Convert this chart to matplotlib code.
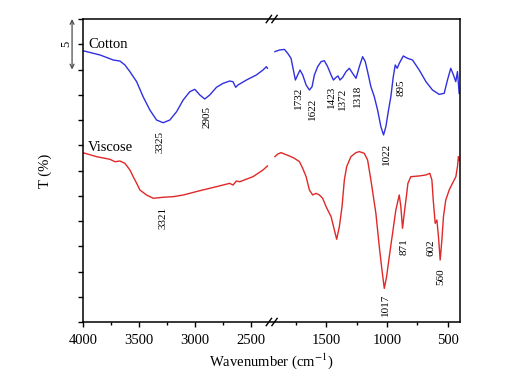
#!/usr/bin/env python3
"""
FTIR spectra of cotton and viscose with a broken wavenumber axis.

Output:
  out.png
"""

from __future__ import annotations

import numpy as np
import matplotlib

matplotlib.use("Agg")
import matplotlib.pyplot as plt


# Spectra (wavenumber in cm-1, transmittance with arbitrary offset, %)
COTTON_HI_WN = [4000, 3848, 3729, 3670, 3625, 3580, 3520, 3462, 3402, 3342, 3283, 3223,
                3163, 3104, 3045, 3000, 2955, 2911, 2866, 2806, 2747, 2688, 2658, 2634,
                2613, 2538, 2449, 2390, 2360, 2350]
COTTON_HI_T = [26.86, 26.44, 25.94, 25.84, 25.45, 24.78, 23.79, 22.30, 20.99, 20.00, 19.73,
               20.00, 20.82, 21.98, 22.80, 23.04, 22.48, 22.08, 22.48, 23.24, 23.63, 23.86,
               23.79, 23.24, 23.47, 23.96, 24.46, 24.95, 25.28, 25.12]

COTTON_LO_WN = [1920, 1883, 1842, 1815, 1788, 1774, 1752, 1733, 1714, 1692, 1664, 1637,
                1615, 1596, 1569, 1541, 1514, 1487, 1459, 1440, 1418, 1402, 1386, 1364,
                1336, 1309, 1282, 1254, 1227, 1200, 1178, 1159, 1132, 1104, 1077, 1050,
                1028, 1009, 987, 968, 948, 932, 916, 899, 866, 831, 790, 735, 680, 626,
                571, 530, 503, 476, 454, 435, 421, 407]
COTTON_LO_T = [26.77, 26.93, 26.99, 26.60, 26.11, 25.28, 23.96, 24.46, 24.95, 24.46, 23.47,
               22.97, 23.30, 24.46, 25.28, 25.78, 25.87, 25.28, 24.46, 23.96, 24.22, 24.36,
               23.96, 24.22, 24.79, 25.12, 24.62, 24.13, 25.28, 26.27, 25.78, 24.79, 23.30,
               22.31, 20.99, 19.34, 18.52, 19.34, 20.99, 22.31, 24.29, 25.45, 25.12, 25.61,
               26.34, 26.11, 25.94, 24.95, 23.80, 22.97, 22.54, 22.64, 23.96, 25.12, 24.46,
               23.80, 24.79, 22.64]

VISCOSE_HI_WN = [4000, 3878, 3759, 3714, 3670, 3625, 3580, 3551, 3520, 3491, 3431, 3372,
                 3283, 3194, 3104, 2955, 2806, 2688, 2658, 2628, 2598, 2479, 2390, 2350]
VISCOSE_HI_T = [16.76, 16.37, 16.11, 15.87, 15.94, 15.71, 15.05, 14.39, 13.73, 13.07, 12.57,
                12.25, 12.35, 12.41, 12.57, 13.00, 13.40, 13.73, 13.56, 13.96, 13.89, 14.39,
                15.05, 15.45]

VISCOSE_LO_WN = [1920, 1897, 1869, 1842, 1801, 1760, 1719, 1692, 1664, 1637, 1610, 1582,
                 1555, 1528, 1500, 1459, 1432, 1413, 1391, 1369, 1350, 1331, 1296, 1255,
                 1227, 1186, 1159, 1132, 1091, 1063, 1041, 1022, 1003, 981, 954, 927, 899,
                 886, 872, 858, 839, 828, 804, 735, 680, 648, 631, 620, 604, 590, 577, 563,
                 549, 536, 517, 489, 462, 434, 421, 413, 407]
VISCOSE_LO_T = [16.37, 16.63, 16.77, 16.63, 16.44, 16.21, 15.88, 15.22, 14.39, 13.07, 12.58,
                12.74, 12.58, 12.25, 11.42, 10.43, 9.11, 8.19, 9.44, 11.42, 14.06, 15.38,
                16.37, 16.77, 16.87, 16.70, 16.04, 14.06, 10.76, 7.46, 5.15, 3.33, 4.49,
                6.47, 8.78, 11.09, 12.58, 11.42, 9.28, 10.76, 12.58, 13.73, 14.39, 14.46,
                14.56, 14.72, 14.06, 12.08, 9.77, 10.10, 8.45, 6.14, 8.12, 10.43, 12.08,
                13.07, 13.73, 14.39, 15.38, 16.37, 16.04]

# Peak labels: text, wavenumber, T position of the label
COTTON_PEAKS = ["3325", "2905", "1732", "1622", "1423", "1372", "1318", "1022", "895"]
COTTON_PEAK_WN = [3312, 2893, 1727, 1612, 1457, 1366, 1243, 1006, 883]
COTTON_PEAK_T = [17.87, 20.25, 22.18, 21.09, 22.33, 22.13, 22.38, 16.68, 23.22]

VISCOSE_PEAKS = ["3321", "1017", "871", "602", "560"]
VISCOSE_PEAK_WN = [3286, 1014, 858, 637, 555]
VISCOSE_PEAK_T = [10.35, 1.68, 7.48, 7.33, 4.46]

X_MAJOR = [4000, 3500, 3000, 2500, 1500, 1000, 500]
X_MINOR = [3750, 3250, 2750, 1750, 1250, 750]

BLUE = "#3030e0"
RED = "#e02828"

# Broken axis: 2350 -> 1920 cm-1 squeezed into a small gap
HI_START, LO_END = 2350.0, 1920.0
LO_SCALE, HI_SCALE, GAP = 0.122, 0.112, 7.5
R_OFF = LO_SCALE * (LO_END - 400.0)
G_OFF = R_OFF + GAP


def fwd(w):
    w = np.asarray(w, dtype=float)
    lo = LO_SCALE * (w - 400.0)
    mid = R_OFF + (w - LO_END) / (HI_START - LO_END) * GAP
    hi = G_OFF + HI_SCALE * (w - HI_START)
    return np.where(w >= HI_START, hi, np.where(w >= LO_END, mid, lo))


def inv(p):
    p = np.asarray(p, dtype=float)
    lo = p / LO_SCALE + 400.0
    mid = LO_END + (p - R_OFF) / GAP * (HI_START - LO_END)
    hi = HI_START + (p - G_OFF) / HI_SCALE
    return np.where(p >= G_OFF, hi, np.where(p >= R_OFF, mid, lo))


def main() -> None:
    plt.rcParams["font.family"] = ["Liberation Serif", "DejaVu Serif"]
    plt.rcParams["mathtext.fontset"] = "stix"

    fig = plt.figure(figsize=(5.24, 3.72), dpi=100)
    ax = fig.add_axes([0.1584, 0.1344, 0.7195, 0.8145])

    ax.set_xscale("function", functions=(fwd, inv))

    ax.plot(COTTON_HI_WN, COTTON_HI_T, color=BLUE, lw=1.0)
    ax.plot(COTTON_LO_WN, COTTON_LO_T, color=BLUE, lw=1.0)
    ax.plot(VISCOSE_HI_WN, VISCOSE_HI_T, color=RED, lw=1.0)
    ax.plot(VISCOSE_LO_WN, VISCOSE_LO_T, color=RED, lw=1.0)

    for lab, w, t in zip(COTTON_PEAKS, COTTON_PEAK_WN, COTTON_PEAK_T):
        ax.text(w, t, lab, rotation=90, ha="center", va="center", fontsize=8)
    for lab, w, t in zip(VISCOSE_PEAKS, VISCOSE_PEAK_WN, VISCOSE_PEAK_T):
        ax.text(w, t, lab, rotation=90, ha="center", va="center", fontsize=8)

    ax.text(3955, 27.5, "Cotton", ha="left", va="center", fontsize=10.5)
    ax.text(3955, 17.3, "Viscose", ha="left", va="center", fontsize=10.5)

    ax.set_xlim(4000, 400)
    ax.set_ylim(0, 30)
    ax.set_xticks(X_MAJOR, labels=[str(v) for v in X_MAJOR])
    ax.set_xticks(X_MINOR, minor=True)
    ax.set_yticks(np.arange(0, 30.1, 2.5))
    ax.set_yticklabels([])
    ax.tick_params(axis="both", which="major", direction="out", length=3.5, width=1.0,
                   labelsize=10.5, pad=5)
    ax.tick_params(axis="x", which="minor", direction="out", length=2.5, width=1.0)
    for s in ax.spines.values():
        s.set_linewidth(1.1)

    ax.set_xlabel("Wavenumber (cm$^{-1}$)", fontsize=10.5, labelpad=3)
    ax.set_ylabel("T (%)", fontsize=10.5, labelpad=14)

    # scale bar (5 %T)
    ax.annotate("", xy=(-0.029, 30), xytext=(-0.029, 25),
                xycoords=("axes fraction", "data"), textcoords=("axes fraction", "data"),
                arrowprops=dict(arrowstyle="<->", color="0.3", lw=0.9,
                                shrinkA=0, shrinkB=0, mutation_scale=7),
                annotation_clip=False)
    ax.text(-0.045, 27.5, "5", transform=ax.get_yaxis_transform(), rotation=90,
            ha="center", va="center", fontsize=9)

    # break marks on top and bottom spines
    for y in (0.0, 1.0):
        for xc in (0.493, 0.508):
            ax.plot([xc - 0.007, xc + 0.007], [y - 0.012, y + 0.012],
                    transform=ax.transAxes, color="k", lw=1.0, clip_on=False)

    fig.savefig("out.png", dpi=100)
    plt.close(fig)


if __name__ == "__main__":
    main()
